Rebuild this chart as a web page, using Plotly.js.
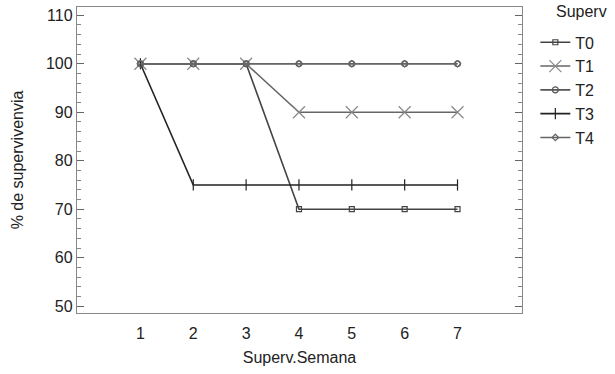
<!DOCTYPE html>
<html><head><meta charset="utf-8">
<script src="https://cdn.plot.ly/plotly-3.0.1.min.js"></script>
<style>html,body{margin:0;padding:0;background:#fff}#chart{width:615px;height:374px}</style>
</head><body><div id="chart"></div>
<script>
var semanas = [1, 2, 3, 4, 5, 6, 7];
var T0 = [100, 100, 100, 70, 70, 70, 70];
var T1 = [100, 100, 100, 90, 90, 90, 90];
var T2 = [100, 100, 100, 100, 100, 100, 100];
var T3 = [100, 75, 75, 75, 75, 75, 75];
var T4 = [100, 100, 100, 100, 100, 100, 100];
var names = ['T0', 'T1', 'T2', 'T3', 'T4'];
var series = [T0, T1, T2, T3, T4];
var symbols = ['square-open', 'x-thin-open', 'circle-open', 'line-ns-open', 'diamond-open'];
var sizes = [5, 12, 6, 8, 5];
var colors = ['#444', '#888', '#555', '#222', '#666'];
var font = "'Liberation Sans', Arial, sans-serif";
var traces = series.map(function (s, i) {
  return {
    x: semanas, y: s, name: names[i], mode: 'lines+markers', type: 'scatter',
    line: {color: i === 1 ? '#666' : colors[i], width: 1.6},
    marker: {symbol: symbols[i], size: sizes[i], color: colors[i], line: {width: 1.2, color: colors[i]}}
  };
});
var layout = {
  width: 615, height: 374,
  margin: {l: 77, r: 93, t: 7, b: 61},
  paper_bgcolor: '#fff', plot_bgcolor: '#fff',
  font: {family: font, size: 16, color: '#222'},
  showlegend: true,
  legend: {
    x: 1.03, xanchor: 'left', y: 0.94, yanchor: 'top',
    font: {size: 16}, tracegroupgap: 0, itemwidth: 30
  },
  annotations: [{
    text: 'Superv', xref: 'paper', yref: 'paper', x: 1.072, y: 1.02,
    xanchor: 'left', yanchor: 'top', showarrow: false, font: {size: 16}
  }],
  xaxis: {
    range: [-0.2, 8.22], tickvals: semanas, ticktext: semanas.map(String),
    showgrid: false, zeroline: false, showline: true, linecolor: '#888', linewidth: 1.2,
    mirror: true, ticks: '', ticklabelstandoff: 6,
    title: {text: 'Superv.Semana', font: {size: 16}, standoff: 10}
  },
  yaxis: {
    range: [48.6, 111.7], tickvals: [50, 60, 70, 80, 90, 100, 110],
    showgrid: false, zeroline: false, showline: true, linecolor: '#888', linewidth: 1.2,
    mirror: 'ticks', ticks: 'inside', ticklen: 7, tickcolor: '#666',
    minor: {dtick: 2, ticks: 'inside', ticklen: 4, tickcolor: '#888', showgrid: false},
    title: {text: '% de supervivenvia', font: {size: 16}, standoff: 18}
  }
};
Plotly.newPlot('chart', traces, layout, {displayModeBar: false, staticPlot: true});
</script></body></html>
